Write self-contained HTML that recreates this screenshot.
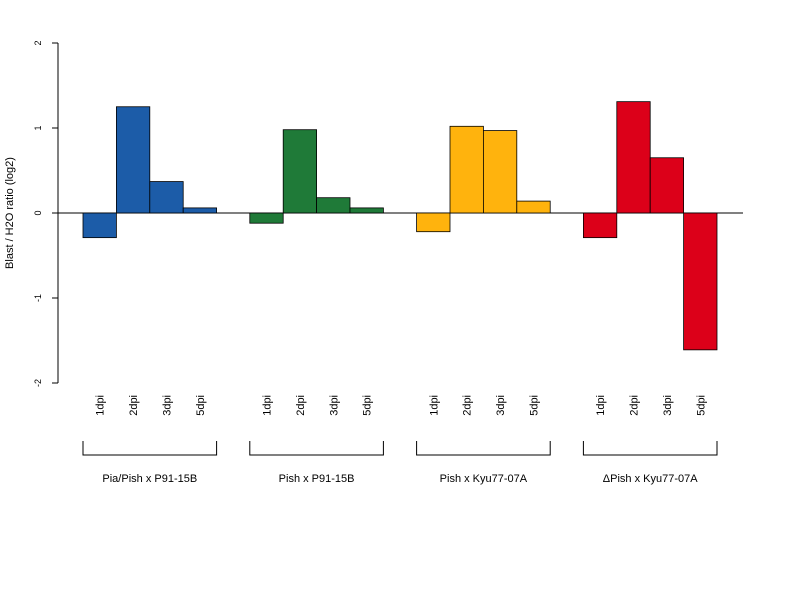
<!DOCTYPE html>
<html><head><meta charset="utf-8"><style>body{margin:0;background:#fff}svg{display:block;font-family:"Liberation Sans",sans-serif}</style></head>
<body>
<svg id="chart" width="800" height="600" xmlns="http://www.w3.org/2000/svg">
<rect width="800" height="600" fill="#fff"/>
<g id="axis"></g><g id="bars"></g><g id="labels"></g>
</svg>
<script>
const groups = ["Pia/Pish x P91-15B","Pish x P91-15B","Pish x Kyu77-07A","ΔPish x Kyu77-07A"];
const days = ["1dpi","2dpi","3dpi","5dpi"];
const values1 = [-0.29,1.25,0.37,0.06];
const values2 = [-0.12,0.98,0.18,0.06];
const values3 = [-0.22,1.02,0.97,0.14];
const values4 = [-0.29,1.31,0.65,-1.61];
const yTicks = [-2,-1,0,1,2];
const colors = ["#1c5ca8","#1f7a38","#ffb30d","#dc0019"];
const series = [values1,values2,values3,values4];
const NS="http://www.w3.org/2000/svg";
const y = v => 213 - v*85;
const barW = 33.4;
const x = (g,i) => 83 + g*166.8 + i*barW;
function mk(tag, attrs, parent){const e=document.createElementNS(NS,tag);for(const k in attrs)e.setAttribute(k,attrs[k]);document.getElementById(parent).appendChild(e);return e;}
// y axis
let ax=mk("line",{x1:58,x2:58,y1:y(2),y2:y(-2),stroke:"#000"},"axis");


yTicks.forEach(t=>{
  let l=mk("line",{x1:52,x2:58,y1:y(t),y2:y(t),stroke:"#000"},"axis");
  
  
  let tx=mk("text",{x:0,y:0,"font-size":9,"text-anchor":"middle",transform:`translate(41,${y(t)}) rotate(-90)`},"axis");
  tx.textContent=t;
  
  
});
let yt=mk("text",{x:0,y:0,"font-size":11,"text-anchor":"middle",transform:`translate(13,213) rotate(-90)`},"axis");
yt.textContent="Blast / H2O ratio (log2)";


let zl=mk("line",{x1:58,x2:743,y1:y(0),y2:y(0),stroke:"#000"},"axis");


series.forEach((vals,g)=>{
  vals.forEach((v,i)=>{
    let r=mk("rect",{x:x(g,i),y:Math.min(y(v),y(0)),width:barW,height:Math.abs(y(v)-y(0)),fill:colors[g],stroke:"#000","stroke-width":0.8},"bars");
    
    
    let t=mk("text",{x:0,y:0,"font-size":11,"text-anchor":"end",transform:`translate(${x(g,i)+barW/2+4},395) rotate(-90)`},"labels");
    t.textContent=days[i];
    
    
  });
  const x0=x(g,0), x1=x(g,4);
  let b=mk("path",{d:`M${x0},441V455H${x1}V441`,fill:"none",stroke:"#000"},"labels");
  
  
  let gl=mk("text",{x:(x0+x1)/2,y:482,"font-size":11,"text-anchor":"middle"},"labels");
  gl.textContent=groups[g];
  
  
});
</script>
</body></html>
